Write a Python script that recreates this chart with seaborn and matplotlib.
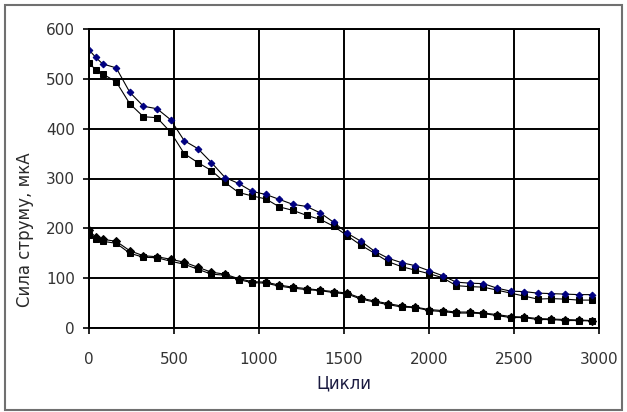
import matplotlib
matplotlib.use("Agg")
import matplotlib.pyplot as plt
from matplotlib.patches import Rectangle
import seaborn as sns

# Data
cycles = [0, 40, 80, 160, 240, 320, 400, 480, 560, 640, 720, 800, 880, 960,
          1040, 1120, 1200, 1280, 1360, 1440, 1520, 1600, 1680, 1760, 1840,
          1920, 2000, 2080, 2160, 2240, 2320, 2400, 2480, 2560, 2640, 2720,
          2800, 2880, 2960]

upper_blue = [558, 543, 530, 522, 473, 445, 440, 418, 376, 360, 332, 302, 290, 274,
              268, 258, 248, 244, 231, 212, 190, 174, 154, 140, 131,
              125, 115, 105, 92, 90, 89, 80, 74, 73, 70, 69,
              68, 67, 67]
upper_black = [532, 518, 510, 494, 450, 424, 422, 393, 350, 332, 316, 292, 272, 265,
               259, 243, 236, 226, 218, 204, 185, 166, 150, 133, 123,
               116, 109, 101, 85, 83, 82, 76, 70, 64, 58, 59,
               58, 56, 56]
lower_diamond = [196, 182, 178, 174, 155, 145, 143, 138, 132, 122, 112, 108, 99, 93,
                 92, 86, 82, 79, 76, 73, 70, 60, 54, 49, 44,
                 42, 37, 35, 32, 32, 30, 27, 23, 22, 19, 18,
                 17, 16, 15]
lower_square = [186, 178, 174, 170, 150, 142, 141, 134, 128, 118, 108, 106, 97, 91,
                90, 84, 80, 77, 75, 71, 68, 58, 52, 47, 42,
                41, 35, 33, 30, 30, 29, 25, 21, 21, 17, 17,
                15, 15, 14]

x_ticks = [0, 500, 1000, 1500, 2000, 2500, 3000]
y_ticks = [0, 100, 200, 300, 400, 500, 600]

sns.set_style("white")
plt.rcParams['font.family'] = ['DejaVu Sans']

fig = plt.figure(figsize=(6.27, 4.12), dpi=100)
ax = fig.add_axes([89 / 627, 84 / 412, 510 / 627, 299 / 412])

# outer chart border
fig.patches.append(Rectangle((5 / 627, 2 / 412), 617 / 627, 405 / 412, transform=fig.transFigure,
                             fill=False, edgecolor="#707070", linewidth=1.5))

sns.lineplot(x=cycles, y=lower_square, ax=ax, color="black", linewidth=0.8,
             marker="s", markersize=5, markeredgecolor="black")
sns.lineplot(x=cycles, y=lower_diamond, ax=ax, color="black", linewidth=0.8,
             marker="D", markersize=4.2, markeredgecolor="black")
sns.lineplot(x=cycles, y=upper_black, ax=ax, color="black", linewidth=0.8,
             marker="s", markersize=5, markeredgecolor="black")
sns.lineplot(x=cycles, y=upper_blue, ax=ax, color="black", linewidth=0.8,
             marker="D", markersize=3.4, markerfacecolor="#000080", markeredgecolor="#000080")

ax.set_xlim(0, 3000)
ax.set_ylim(0, 600)
ax.set_xticks(x_ticks)
ax.set_yticks(y_ticks)
ax.grid(True, color="black", linewidth=1.4)
ax.set_axisbelow(True)
for s in ax.spines.values():
    s.set_color("black")
    s.set_linewidth(1.4)

ax.tick_params(axis="both", direction="out", length=4, width=1.2, color="black",
               labelsize=11, labelcolor="#333333", left=True, bottom=True)
ax.tick_params(axis="x", pad=13)
ax.tick_params(axis="y", pad=6)

ax.set_xlabel("Цикли", fontsize=12, color="#1a1a40")
ax.xaxis.set_label_coords(0.5, -0.155)
ax.set_ylabel("Сила струму, мкА", fontsize=12, color="#2a2a2a")
ax.yaxis.set_label_coords(-0.108, 0.328)

plt.savefig("out.png", dpi=100)
